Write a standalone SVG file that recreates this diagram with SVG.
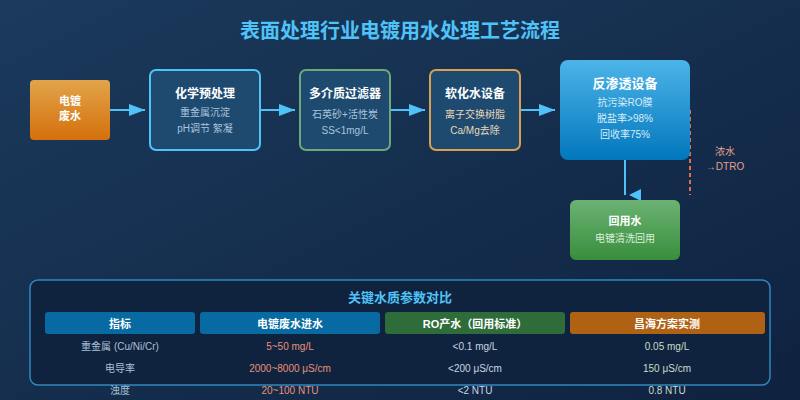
<svg xmlns="http://www.w3.org/2000/svg" width="800" height="400" viewBox="0 0 800 400">
<defs>
<linearGradient id="bg" x1="0" y1="0" x2="1" y2="1">
<stop offset="0" stop-color="#1b3a5c"/>
<stop offset="1" stop-color="#0f2240"/>
</linearGradient>
<linearGradient id="gOrange" x1="0" y1="0" x2="0" y2="1">
<stop offset="0" stop-color="#e2a44a"/>
<stop offset="1" stop-color="#d4700c"/>
</linearGradient>
<linearGradient id="gBlue" x1="0" y1="0" x2="0" y2="1">
<stop offset="0" stop-color="#4cb4e8"/>
<stop offset="1" stop-color="#0277bd"/>
</linearGradient>
<linearGradient id="gGreen" x1="0" y1="0" x2="0" y2="1">
<stop offset="0" stop-color="#6cb274"/>
<stop offset="1" stop-color="#388e3c"/>
</linearGradient>
<marker id="arr" markerWidth="16" markerHeight="12" refX="16" refY="6" orient="auto" markerUnits="userSpaceOnUse">
<polygon points="0,0 16,6 0,12" fill="#4fc3f7"/>
</marker>
<style>
text{font-family:"Liberation Sans","Noto Sans CJK SC",sans-serif;text-anchor:middle}
.title{font-size:20px;font-weight:bold;fill:#4fc3f7}
.nt{font-size:12px;font-weight:bold;fill:#ffffff}
.ns{font-size:10px;fill:#a9c4dc}
.box{fill:#1e4a70;stroke-width:2}
.conn{stroke:#4fc3f7;stroke-width:2;fill:none}
.th{font-size:11px;font-weight:bold;fill:#ffffff}
.td{font-size:10px}
</style>
</defs>
<rect width="800" height="400" fill="url(#bg)"/>
<text class="title" x="400" y="38">表面处理行业电镀用水处理工艺流程</text>

<g id="connectors">
<line class="conn" x1="110" y1="110" x2="145" y2="110" marker-end="url(#arr)"/>
<line class="conn" x1="260" y1="110" x2="295" y2="110" marker-end="url(#arr)"/>
<line class="conn" x1="390" y1="110" x2="425" y2="110" marker-end="url(#arr)"/>
<line class="conn" x1="520" y1="110" x2="555" y2="110" marker-end="url(#arr)"/>
<line class="conn" x1="625" y1="160" x2="625" y2="195"/>
<polygon points="629,195 641,189 641,201" fill="#4fc3f7"/>
<line x1="690" y1="110" x2="690" y2="195" stroke="#e0704c" stroke-width="2" stroke-dasharray="4,3"/>
<text x="725" y="155" style="font-size:10px;fill:#e8a08a">浓水</text>
<text x="725" y="170" style="font-size:10px;fill:#e8a08a">→DTRO</text>
</g>

<g id="n1">
<rect x="30" y="80" width="80" height="60" rx="4" fill="url(#gOrange)"/>
<text class="nt" x="70" y="105" style="font-size:11px">电镀</text>
<text class="nt" x="70" y="120" style="font-size:11px">废水</text>
</g>
<g id="n2">
<rect class="box" x="150" y="70" width="110" height="80" rx="6" stroke="#4fc3f7"/>
<text class="nt" x="205" y="98">化学预处理</text>
<text class="ns" x="205" y="116">重金属沉淀</text>
<text class="ns" x="205" y="132">pH调节 絮凝</text>
</g>
<g id="n3">
<rect class="box" x="300" y="70" width="90" height="80" rx="6" stroke="#6aaa78"/>
<text class="nt" x="345" y="98">多介质过滤器</text>
<text class="ns" x="345" y="118">石英砂+活性炭</text>
<text class="ns" x="345" y="134">SS&lt;1mg/L</text>
</g>
<g id="n4">
<rect class="box" x="430" y="70" width="90" height="80" rx="6" stroke="#d8a050"/>
<text class="nt" x="475" y="98">软化水设备</text>
<text class="ns" x="475" y="118" style="fill:#e8d8b8">离子交换树脂</text>
<text class="ns" x="475" y="134" style="fill:#e8d8b8">Ca/Mg去除</text>
</g>
<g id="n5">
<rect x="560" y="60" width="130" height="100" rx="8" fill="url(#gBlue)"/>
<text class="nt" x="625" y="88" style="font-size:13px">反渗透设备</text>
<text class="ns" x="625" y="106" style="fill:#d8ecf8">抗污染RO膜</text>
<text class="ns" x="625" y="122" style="fill:#d8ecf8">脱盐率&gt;98%</text>
<text class="ns" x="625" y="138" style="fill:#d8ecf8">回收率75%</text>
</g>
<g id="n6">
<rect x="570" y="200" width="110" height="60" rx="6" fill="url(#gGreen)"/>
<text class="nt" x="625" y="225" style="font-size:11px">回用水</text>
<text class="ns" x="625" y="242" style="fill:#dcf0dc">电镀清洗回用</text>
</g>

<g id="table">
<rect x="30" y="280" width="740" height="105" rx="8" fill="#10233e" stroke="#2f88c0" stroke-width="1.5"/>
<text x="400" y="302" style="font-size:13px;font-weight:bold;fill:#4fc3f7">关键水质参数对比</text>
<rect x="45" y="312" width="150" height="22" rx="3" fill="#086aa2"/>
<rect x="200" y="312" width="180" height="22" rx="3" fill="#086aa2"/>
<rect x="385" y="312" width="180" height="22" rx="3" fill="#2e6c3a"/>
<rect x="570" y="312" width="195" height="22" rx="3" fill="#b06214"/>
<text class="th" x="120" y="328">指标</text>
<text class="th" x="290" y="328">电镀废水进水</text>
<text class="th" x="475" y="328">RO产水（回用标准）</text>
<text class="th" x="667" y="328">昌海方案实测</text>
<g class="td" style="fill:#a9c0d6">
<text x="120" y="350">重金属 (Cu/Ni/Cr)</text>
<text x="120" y="372">电导率</text>
<text x="120" y="394">浊度</text>
</g>
<g class="td" style="fill:#e8907a">
<text x="290" y="350">5~50 mg/L</text>
<text x="290" y="372">2000~8000 μS/cm</text>
<text x="290" y="394">20~100 NTU</text>
</g>
<g class="td" style="fill:#c8d6e4">
<text x="475" y="350">&lt;0.1 mg/L</text>
<text x="475" y="372">&lt;200 μS/cm</text>
<text x="475" y="394">&lt;2 NTU</text>
</g>
<g class="td" style="fill:#c8dcc8">
<text x="667" y="350">0.05 mg/L</text>
<text x="667" y="372">150 μS/cm</text>
<text x="667" y="394">0.8 NTU</text>
</g>
</g>
</svg>
